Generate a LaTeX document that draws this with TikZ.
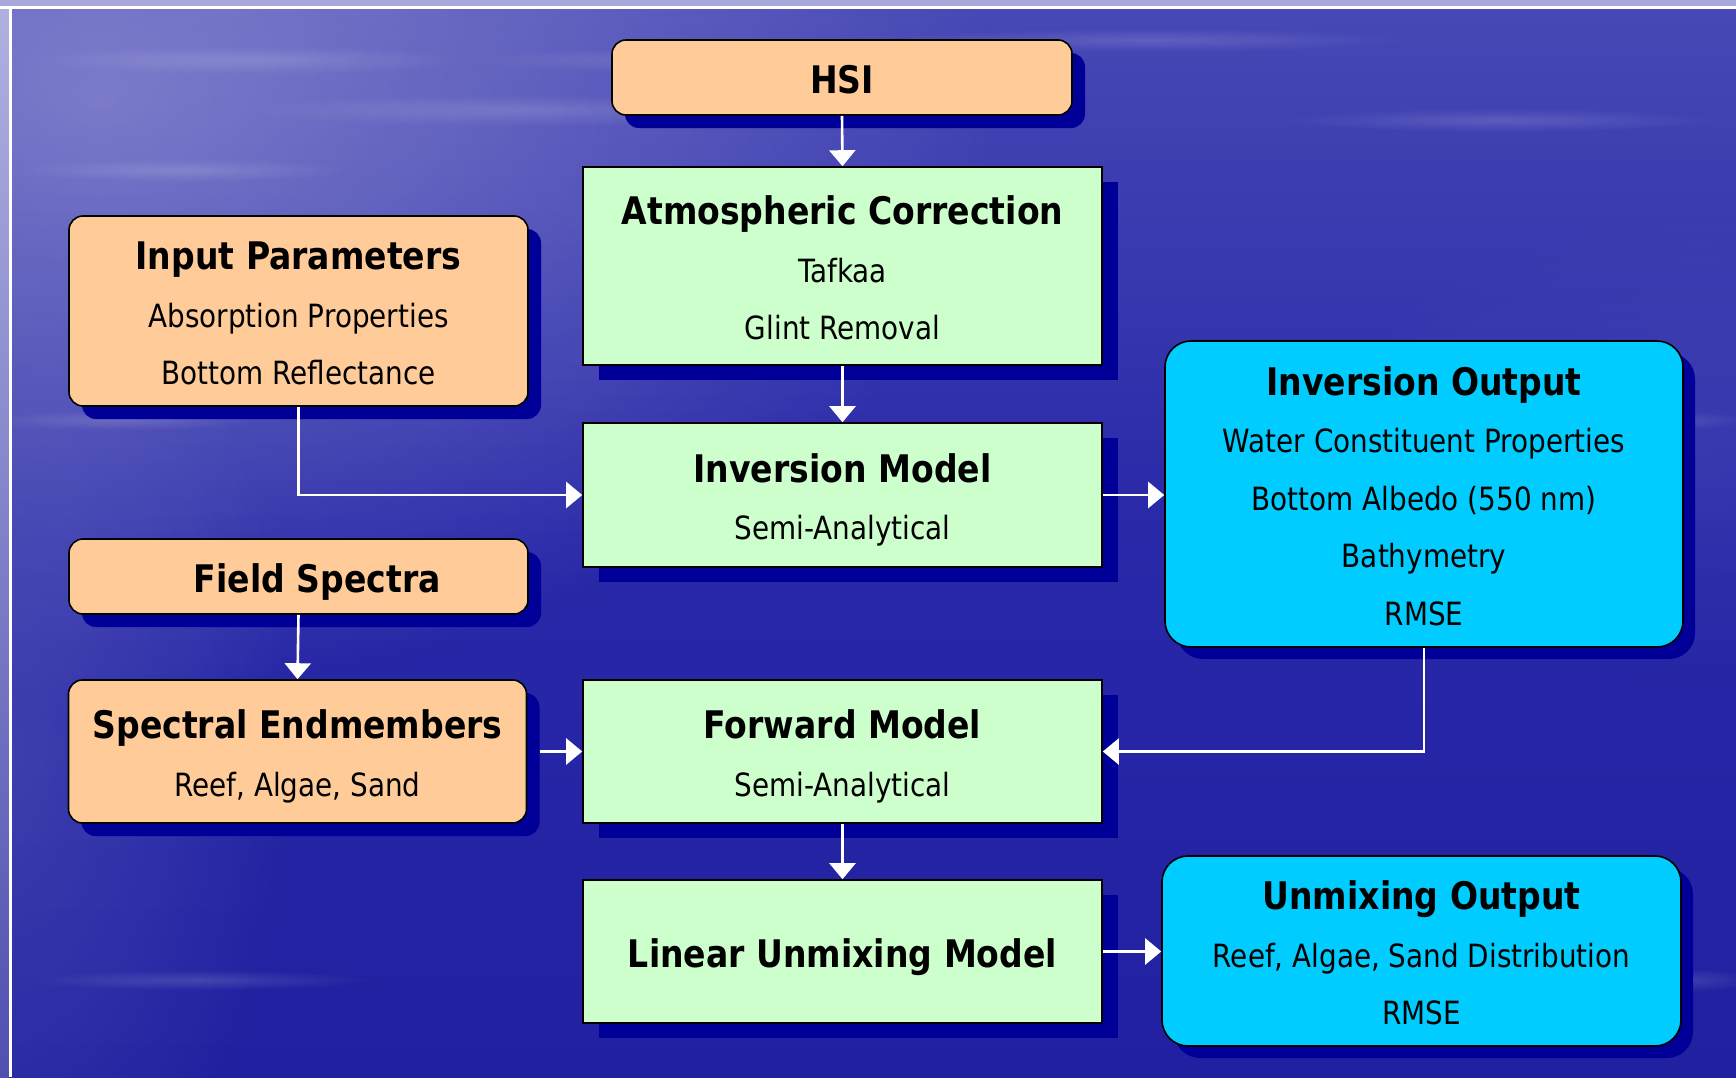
\documentclass[tikz,border=0pt]{standalone}
\usepackage{fontspec}
\setmainfont{DejaVu Sans}[FakeStretch=0.87]
\usetikzlibrary{arrows.meta,shadows,fadings,calc}
\definecolor{orangefill}{HTML}{FFCC99}
\definecolor{greenfill}{HTML}{CCFFCC}
\definecolor{cyanfill}{HTML}{00CCFF}
\definecolor{shadowblue}{HTML}{000099}
\definecolor{bgtop}{HTML}{4848B6}
\definecolor{bgmid}{HTML}{2828A8}
\definecolor{bgbot}{HTML}{2020A0}
\tikzfading[name=softglow, inner color=transparent!0, outer color=transparent!100]
\newcommand\titlef{\fontsize{19}{28.75}\selectfont\bfseries}
\newcommand\bodyf{\fontsize{16}{28.75}\selectfont}
\newcommand\sst{\rule[-5pt]{0pt}{26pt}}
\tikzset{
  box/.style={draw=black, line width=0.8pt, align=center, text=black, font=\bodyf, inner sep=0pt},
  orangebox/.style={box, fill=orangefill, rounded corners=7pt,
    drop shadow={shadow xshift=6.5pt, shadow yshift=-6.5pt, fill=shadowblue, opacity=1}},
  greenbox/.style={box, fill=greenfill, sharp corners,
    drop shadow={shadow xshift=7.75pt, shadow yshift=-7.5pt, fill=shadowblue, opacity=1}},
  cyanbox/.style={box, fill=cyanfill, rounded corners=13pt,
    drop shadow={shadow xshift=6pt, shadow yshift=-6pt, fill=shadowblue, opacity=1}},
  conn/.style={draw=white, line width=1.3pt, -{Triangle[length=8pt,width=13pt]}},
  streak/.style={white, opacity=0.14, path fading=softglow, fit fading=true},
}
\begin{document}
\begin{tikzpicture}[x=0.5pt, y=-0.5pt]
\useasboundingbox (0,0) rectangle (1736,1077);
% background
\shade[top color=bgtop, bottom color=bgbot, middle color=bgmid] (0,0) rectangle (1736,1077);
\fill[white, opacity=0.3, path fading=softglow, fit fading=true] (-800,-500) rectangle (1000,700);
\fill[white, opacity=0.12, path fading=softglow, fit fading=true] (-300,200) rectangle (300,1300);
\fill[white, opacity=0.06, path fading=softglow, fit fading=true] (1300,200) rectangle (2100,700);
\foreach \cx/\cy/\rx/\ry in {250/60/220/14, 520/110/280/16, 180/170/170/12, 700/60/240/12, 1150/40/260/12, 1500/120/220/12, 350/250/200/12, 120/420/140/10, 200/980/180/10, 1650/420/100/10, 1680/980/80/12}
  \fill[streak] (\cx,\cy) ellipse [x radius=\rx, y radius=\ry];
\fill[color={rgb,255:red,168;green,168;blue,220}] (0,0) rectangle (1736,6);
\shade[top color={rgb,255:red,176;green,176;blue,224}, bottom color={rgb,255:red,80;green,80;blue,176}] (0,6) rectangle (9,1077);
\draw[white, line width=1.5pt] (0,7.5) -- (1736,7.5);
\draw[white, line width=1.5pt] (10.5,7.5) -- (10.5,1077);

% nodes
\node[orangebox, minimum width=230pt, minimum height=37.5pt] (hsi) at (842,77.5) {{\titlef HSI}\sst};
\node[greenbox, minimum width=259.5pt, minimum height=99pt] (atm) at (842.5,266)
  {{\titlef Atmospheric Correction}\sst\\[0pt] Tafkaa\sst\\ Glint Removal\sst};
\node[orangebox, minimum width=229.5pt, minimum height=95pt] (inp) at (298.5,311)
  {{\titlef Input Parameters}\sst\\[0pt] Absorption Properties\sst\\ Bottom Reflectance\sst};
\node[greenbox, minimum width=259.5pt, minimum height=72pt] (invm) at (842.5,495)
  {{\titlef Inversion Model}\sst\\[0pt] Semi-Analytical\sst};
\node[cyanbox, minimum width=259pt, minimum height=153pt] (invo) at (1424,494)
  {{\titlef Inversion Output}\sst\\[0pt] Water Constituent Properties\sst\\ Bottom Albedo (550 nm)\sst\\ Bathymetry\sst\\ RMSE\sst};
\node[orangebox, minimum width=229.5pt, minimum height=37.5pt] (field) at (298.5,576.5) {\hspace*{18.8pt}{\titlef Field Spectra}\sst};
\node[orangebox, minimum width=229pt, minimum height=71.5pt] (spec) at (297.5,751.5)
  {{\titlef Spectral Endmembers}\sst\\[0pt] Reef, Algae, Sand\sst};
\node[greenbox, minimum width=259.5pt, minimum height=71.5pt] (fwd) at (842.5,751.5)
  {{\titlef Forward Model}\sst\\[0pt] Semi-Analytical\sst};
\node[greenbox, minimum width=259.5pt, minimum height=71.5pt] (lin) at (842.5,951.5)
  {{\titlef Linear Unmixing Model}\sst};
\node[cyanbox, minimum width=259.5pt, minimum height=95pt] (unmo) at (1421.5,951)
  {{\titlef Unmixing Output}\sst\\[0pt] Reef, Algae, Sand Distribution\sst\\ RMSE\sst};

% connectors
\draw[conn] (hsi.south) -- (atm.north);
\draw[conn] (atm.south) -- (invm.north);
\draw[conn] (inp.south) |- (invm.west);
\draw[conn] (invm.east) -- (invm.east -| invo.west);
\draw[conn] (field.south) -- (spec.north);
\draw[conn] ([xshift=6.5pt]spec.east) -- (spec.east -| fwd.west);
\draw[conn] (invo.south) |- (fwd.east);
\draw[conn] (fwd.south) -- (lin.north);
\draw[conn] (lin.east) -- (lin.east -| unmo.west);
\end{tikzpicture}
\end{document}
